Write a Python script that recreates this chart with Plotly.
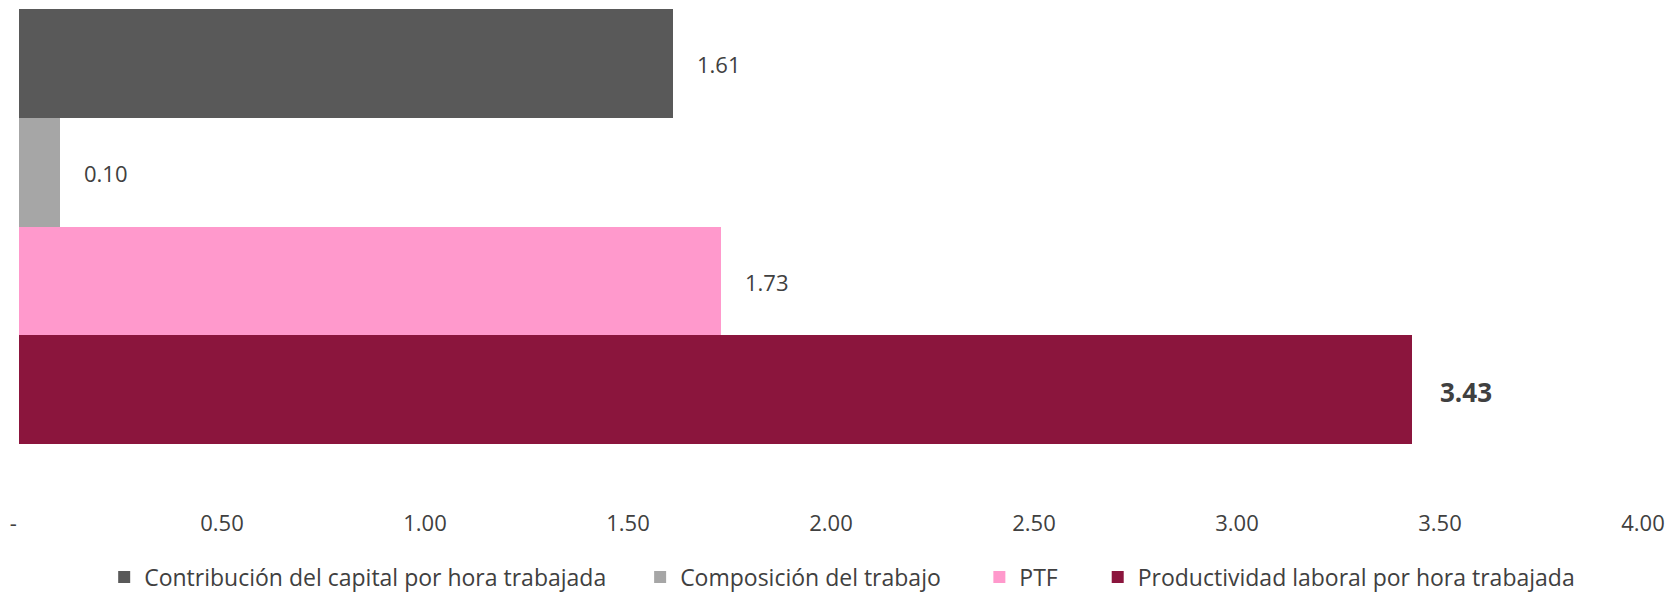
import plotly.graph_objects as go

categories = ["Contribución del capital por hora trabajada", "Composición del trabajo", "PTF",
              "Productividad laboral por hora trabajada"]
values = [1.61, 0.10, 1.73, 3.43]
colors = ["#595959", "#A6A6A6", "#FF99CC", "#8B153D"]
tick_vals = [0, 0.5, 1.0, 1.5, 2.0, 2.5, 3.0, 3.5, 4.0]
tick_text = ["-\u00a0\u00a0", "0.50", "1.00", "1.50", "2.00", "2.50", "3.00", "3.50", "4.00"]

FONT = "Open Sans"
TXT = "#404040"
W, H = 1667, 584  # page adds 8px body margin

legend_names = ["legend", "legend2", "legend3", "legend4"]
legend_x = [0.0577, 0.3792, 0.5827, 0.6537]

fig = go.Figure()
for cat, val, col, lg in zip(categories, values, colors, legend_names):
    fig.add_trace(go.Bar(
        y=[cat], x=[val], orientation="h", name=cat, legend=lg,
        marker=dict(color=col, line=dict(width=0)), width=1.0,
        hoverinfo="x+name",
    ))

annotations = []
for i, (cat, val) in enumerate(zip(categories, values)):
    last = i == len(values) - 1
    annotations.append(dict(
        x=val, y=cat, xref="x", yref="y", text=(f"<b>{val:.2f}</b>" if last else f"{val:.2f}"),
        showarrow=False, xanchor="left", yanchor="middle", xshift=26 if last else 22,
        yshift=-2 if last else -1,
        font=dict(family=FONT, size=26 if last else 22, color=TXT),
    ))

legend_cfg = {}
for lg, lx in zip(legend_names, legend_x):
    legend_cfg[lg] = dict(orientation="h", xref="container", yref="container",
                          x=lx, xanchor="left", y=15 / H, yanchor="middle",
                          font=dict(family=FONT, size=23, color=TXT), itemwidth=30,
                          bgcolor="rgba(0,0,0,0)")

fig.update_layout(
    width=W, height=H,
    paper_bgcolor="white", plot_bgcolor="white",
    margin=dict(l=11, r=32, t=1, b=148),
    barmode="overlay", bargap=0,
    showlegend=True,
    annotations=annotations,
    font=dict(family=FONT, color=TXT),
    **legend_cfg,
)
fig.update_xaxes(range=[0, 4.0], tickvals=tick_vals, ticktext=tick_text,
                 showgrid=False, zeroline=False, showline=False, ticks="",
                 ticklabeloverflow="allow",
                 tickfont=dict(family=FONT, size=22, color=TXT), ticklabelstandoff=64)
fig.update_yaxes(categoryorder="array", categoryarray=categories, autorange="reversed",
                 showticklabels=False, showgrid=False, zeroline=False, showline=False, ticks="")

fig.write_html("out.html")
